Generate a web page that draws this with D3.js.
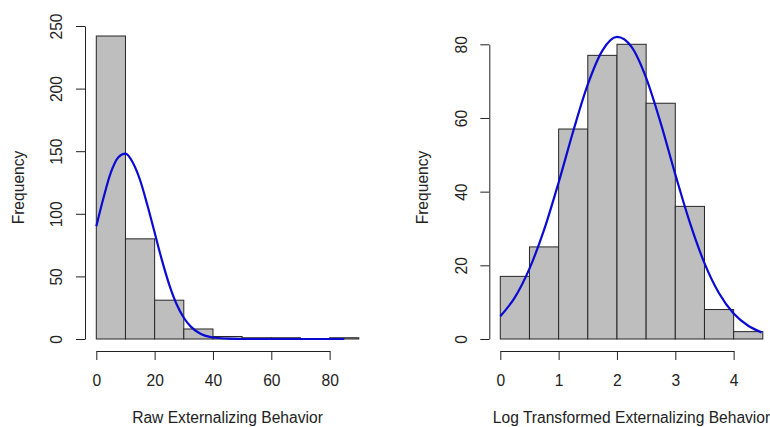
<!DOCTYPE html>
<html>
<head>
<meta charset="utf-8">
<script src="https://cdn.jsdelivr.net/npm/d3@7"></script>
<style>
  body { margin: 0; background: #fff; }
  svg { display: block; }
  text { font-family: "Liberation Sans", Arial, sans-serif; fill: #222; }
</style>
</head>
<body>
<svg id="chart" width="770" height="427"></svg>
<script>
// raw histogram (breaks of 10)
var rawBreaks = [0, 10, 20, 30, 40, 50, 60, 70, 80, 90];
var rawCounts = [242, 80, 31, 8, 2, 1, 1, 0, 1];
var rawXTicks = [0, 20, 40, 60, 80];
var rawYTicks = [0, 50, 100, 150, 200, 250];
// normal curve
var rawCurveX = [0, 2.5, 5, 7.5, 10, 12.5, 15, 17.5, 20, 22.5, 25, 27.5, 30, 32.5, 35, 40, 45, 50, 85];
var rawCurveY = [90, 113, 133, 145, 148, 141, 127, 107, 85, 63, 43.5, 28, 17, 9.7, 5.2, 1.2, 0.3, 0, 0];

// log transformed histogram (breaks of 0.5)
var logBreaks = [0, 0.5, 1, 1.5, 2, 2.5, 3, 3.5, 4, 4.5];
var logCounts = [17, 25, 57, 77, 80, 64, 36, 8, 2];
var logXTicks = [0, 1, 2, 3, 4];
var logYTicks = [0, 20, 40, 60, 80];
var logCurveX = [0, 0.25, 0.5, 0.75, 1, 1.25, 1.5, 1.75, 2, 2.25, 2.5, 2.75, 3, 3.25, 3.5, 3.75, 4, 4.25, 4.48];
var logCurveY = [6.2, 11.3, 19.1, 29.6, 42.5, 56.4, 69.1, 78.3, 82, 79.3, 70.9, 58.6, 44.7, 31.6, 20.6, 12.4, 6.9, 3.6, 1.8];

var svg = d3.select('#chart');
svg.append('rect').attr('width', 770).attr('height', 427).attr('fill', '#fff');

var panels = [
  {
    breaks: rawBreaks, counts: rawCounts, xTicks: rawXTicks, yTicks: rawYTicks,
    cx: rawCurveX, cy: rawCurveY,
    x: d3.scaleLinear().domain([0, 90]).range([96.3, 358.8]),
    y: d3.scaleLinear().domain([0, 250]).range([339, 26]),
    axisX: 85, center: 227.5, title: 'Raw Externalizing Behavior'
  },
  {
    breaks: logBreaks, counts: logCounts, xTicks: logXTicks, yTicks: logYTicks,
    cx: logCurveX, cy: logCurveY,
    x: d3.scaleLinear().domain([0, 4.5]).range([500.3, 762.8]),
    y: d3.scaleLinear().domain([0, 80]).range([339, 44.3]),
    axisX: 489.3, center: 631.5, title: 'Log Transformed Externalizing Behavior'
  }
];

var fmt = function (d) { return String(d); };

panels.forEach(function (p) {
  var g = svg.append('g');

  // bars
  g.selectAll('rect.bar')
    .data(p.counts)
    .enter()
    .append('rect')
    .attr('class', 'bar')
    .attr('x', function (d, i) { return p.x(p.breaks[i]); })
    .attr('width', function (d, i) { return p.x(p.breaks[i + 1]) - p.x(p.breaks[i]); })
    .attr('y', function (d) { return p.y(d); })
    .attr('height', function (d) { return p.y(0) - p.y(d); })
    .attr('fill', '#bebebe')
    .attr('stroke', '#262626')
    .attr('stroke-width', 1);

  // fitted curve
  var pts = p.cx.map(function (v, i) { return [v, p.cy[i]]; });
  var line = d3.line()
    .x(function (d) { return p.x(d[0]); })
    .y(function (d) { return p.y(d[1]); })
    .curve(d3.curveMonotoneX);
  g.append('path')
    .datum(pts)
    .attr('d', line)
    .attr('fill', 'none')
    .attr('stroke', '#0a0ad2')
    .attr('stroke-width', 2.2);

  // x axis only spans first to last tick, like R
  var xt = p.xTicks;
  var xs = p.x.copy().domain([xt[0], xt[xt.length - 1]])
    .range([p.x(xt[0]), p.x(xt[xt.length - 1])]);
  var xAxis = g.append('g')
    .attr('transform', 'translate(0,351)')
    .call(d3.axisBottom(xs).tickValues(xt).tickFormat(fmt)
      .tickSize(9).tickSizeOuter(0).tickPadding(0));
  xAxis.selectAll('text')
    .attr('y', 35).attr('dy', 0)
    .style('font-size', '15.6px');

  var yt = p.yTicks;
  var ys = p.y.copy().domain([yt[0], yt[yt.length - 1]])
    .range([p.y(yt[0]), p.y(yt[yt.length - 1])]);
  var yAxis = g.append('g')
    .attr('transform', 'translate(' + p.axisX + ',0)')
    .call(d3.axisLeft(ys).tickValues(yt).tickFormat(fmt)
      .tickSize(9).tickSizeOuter(0));
  yAxis.selectAll('text')
    .attr('x', null).attr('dy', '0.36em')
    .attr('text-anchor', 'middle')
    .attr('transform', 'translate(-28.3,0) rotate(-90)')
    .style('font-size', '15.6px');

  [xAxis, yAxis].forEach(function (a) {
    a.selectAll('path, line').attr('stroke', '#222').attr('stroke-width', 1);
    a.attr('font-family', null).attr('font-size', null);
  });

  // axis titles
  g.append('text')
    .attr('x', p.center).attr('y', 423)
    .attr('text-anchor', 'middle')
    .style('font-size', '15.6px')
    .text(p.title);
  g.append('text')
    .attr('transform', 'translate(' + (p.axisX - 66.8) + ',187.5) rotate(-90)')
    .attr('text-anchor', 'middle')
    .attr('dy', '0.36em')
    .style('font-size', '15.6px')
    .text('Frequency');
});
</script>
</body>
</html>
